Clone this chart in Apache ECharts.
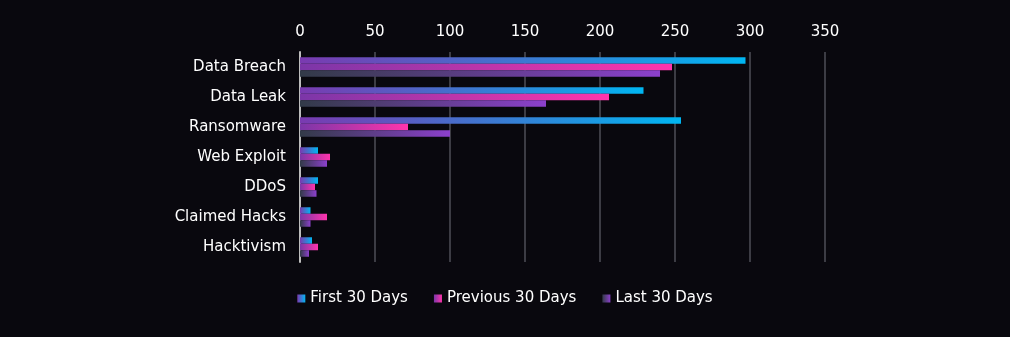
<!DOCTYPE html>
<html><head><meta charset="utf-8">
<script src="https://cdn.jsdelivr.net/npm/echarts@6/dist/echarts.min.js"></script>
<style>html,body{margin:0;padding:0;background:#09080e;}#c{width:1010px;height:337px;}</style>
</head><body><div id="c"></div>
<script>
const categories = ["Data Breach","Data Leak","Ransomware","Web Exploit","DDoS","Claimed Hacks","Hacktivism"];
const seriesNames = ["First 30 Days","Previous 30 Days","Last 30 Days"];
const first30 = [297, 229, 254, 12, 12, 7, 8];
const previous30 = [248, 206, 72, 20, 10, 18, 12];
const last30 = [240, 164, 100, 18, 11, 7, 6];
const xTicks = [0, 50, 100, 150, 200, 250, 300, 350];

const chart = echarts.init(document.getElementById('c'), null, {renderer:'canvas'});
function grad(a, b){
  return new echarts.graphic.LinearGradient(0,0,1,0,[{offset:0,color:a},{offset:1,color:b}]);
}
const colors = [grad('#7a3ab0','#00b6f2'), grad('#7b36a8','#ff34ac'), grad('#323a48','#8c40cc')];
const FONT = 'DejaVu Sans';
const datas = [first30, previous30, last30];
chart.setOption({
  backgroundColor:'#09080e',
  textStyle:{fontFamily:FONT},
  grid:{left:300, right:185, top:52, bottom:75, containLabel:false},
  xAxis:{type:'value', position:'top', min:xTicks[0], max:xTicks[xTicks.length-1], interval:50,
    axisLine:{show:false}, axisTick:{show:false},
    splitLine:{show:true, lineStyle:{color:'#3c3c44', width:2}},
    axisLabel:{color:'#ffffff', fontSize:15, fontFamily:FONT, margin:12}},
  yAxis:{type:'category', data:categories, inverse:true,
    axisLine:{show:true, lineStyle:{color:'#bdbdbd', width:2}}, axisTick:{show:false},
    axisLabel:{color:'#ffffff', fontSize:15, fontFamily:FONT, margin:14, padding:[4,0,0,0]}},
  legend:{bottom:26, left:'center', itemWidth:8, itemHeight:8, itemGap:26, icon:'rect',
    textStyle:{color:'#ffffff', fontSize:15, fontFamily:FONT}, data:seriesNames},
  series: seriesNames.map((n,i)=>({
    name:n, type:'bar', data:datas[i], barWidth:6.5, barGap:'0%',
    itemStyle:{color:colors[i]}, animation:false
  }))
});
</script></body></html>
